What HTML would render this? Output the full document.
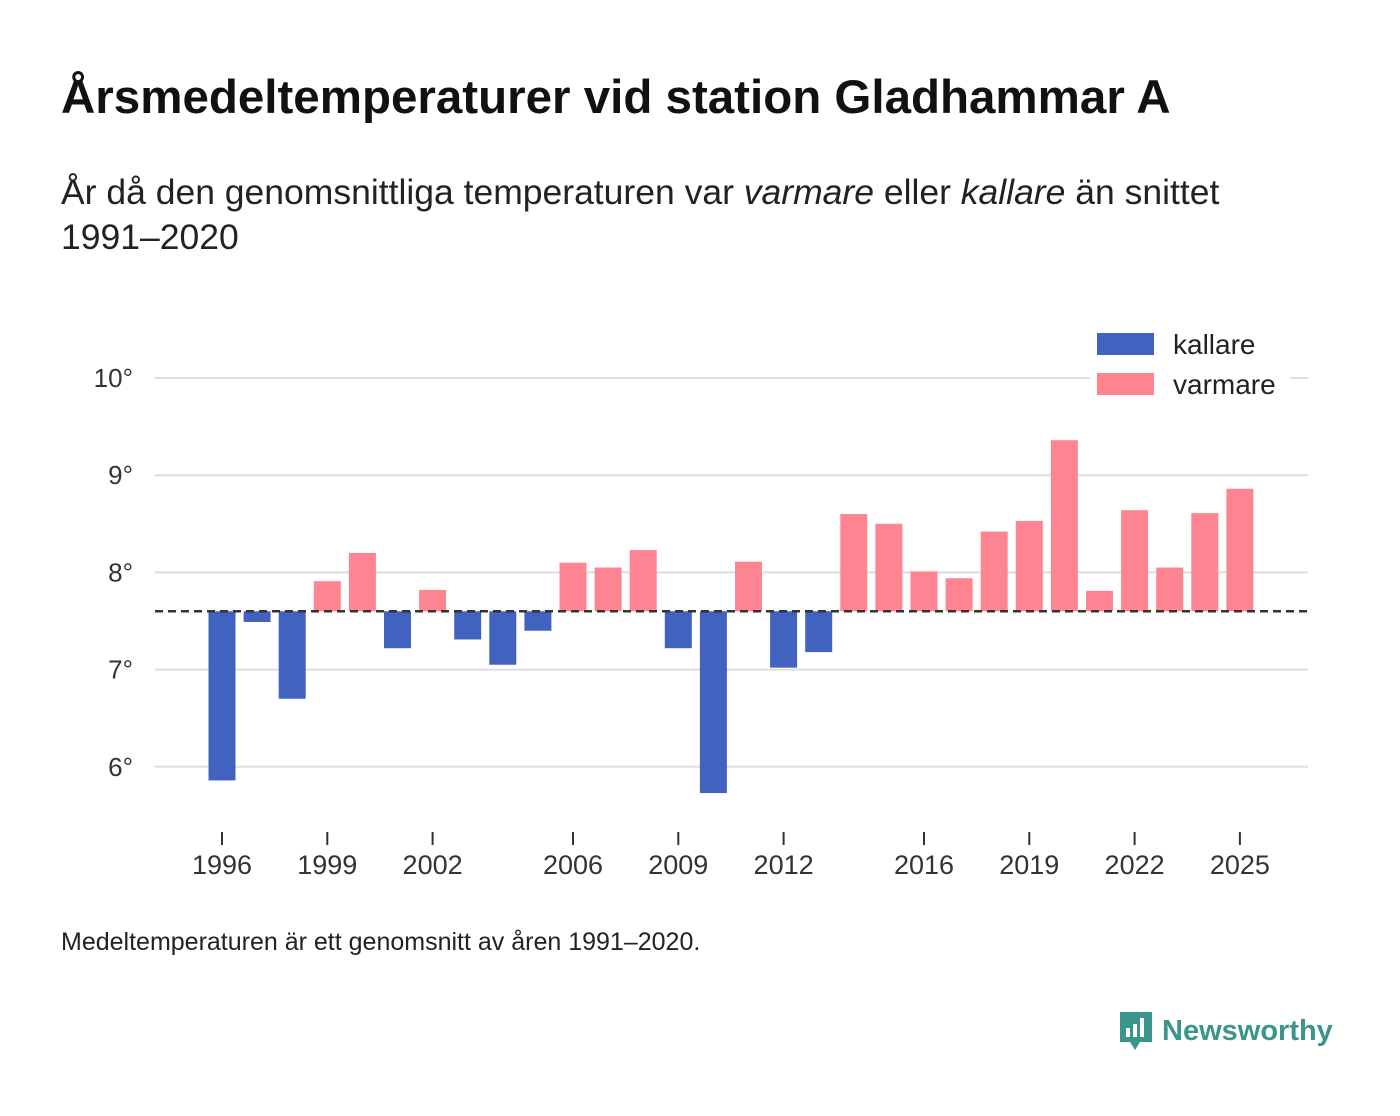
<!DOCTYPE html>
<html><head><meta charset="utf-8">
<style>
body{margin:0;background:#fff;width:1400px;height:1116px;overflow:hidden;font-family:"Liberation Sans","DejaVu Sans",sans-serif;color:#111}
h1{position:absolute;left:61px;top:70px;margin:0;font-size:47.5px;font-weight:bold;letter-spacing:0px;white-space:nowrap}
.sub{position:absolute;left:61px;top:170px;margin:0;font-size:35.5px;line-height:45px;color:#222;width:1250px}
.foot{position:absolute;left:61px;top:928px;font-size:25px;color:#222;white-space:nowrap}
.brand{position:absolute;left:1118px;top:1010px;font-size:29px;font-weight:bold;color:#3b958c;display:flex;align-items:center;gap:8px}
</style></head><body>
<h1>Årsmedeltemperaturer vid station Gladhammar A</h1>
<p class="sub">År då den genomsnittliga temperaturen var <i>varmare</i> eller <i>kallare</i> än snittet<br>1991–2020</p>
<svg id="chart" width="1400" height="1116" style="position:absolute;left:0;top:0"></svg>
<div class="foot">Medeltemperaturen är ett genomsnitt av åren 1991–2020.</div>
<div class="brand"><svg width="36" height="42" viewBox="0 0 36 42"><path d="M2 2h32v30H22l-5 8-5-8H2z" fill="#3b958c"/><rect x="8" y="18" width="4" height="9" fill="#fff"/><rect x="15" y="14" width="4" height="13" fill="#fff"/><rect x="22" y="8" width="4" height="19" fill="#fff"/></svg>Newsworthy</div>
<script>
const years=[1996,1997,1998,1999,2000,2001,2002,2003,2004,2005,2006,2007,2008,2009,2010,2011,2012,2013,2014,2015,2016,2017,2018,2019,2020,2021,2022,2023,2024,2025];
const temps=[5.86,7.49,6.70,7.91,8.20,7.22,7.82,7.31,7.05,7.40,8.10,8.05,8.23,7.22,5.73,8.11,7.02,7.18,8.60,8.50,8.01,7.94,8.42,8.53,9.36,7.81,8.64,8.05,8.61,8.86];
const baseline=7.6;
const yTicks=[6,7,8,9,10];
const yTickLabels=["6°","7°","8°","9°","10°"];
const xTicks=[1996,1999,2002,2006,2009,2012,2016,2019,2022,2025];
const NS="http://www.w3.org/2000/svg";
const svg=document.getElementById('chart');
const y=v=>378+(10-v)*97.2;
const x=yr=>222+(yr-1996)*35.1;
function mk(t,a){const e=document.createElementNS(NS,t);for(const k in a)e.setAttribute(k,a[k]);svg.appendChild(e);return e;}
yTicks.forEach((v,i)=>{
 const g=mk('line',{x1:155,x2:1308,y1:y(v),y2:y(v),stroke:'#ddd','stroke-width':2});
 
 
 const t=mk('text',{x:133,y:y(v)+9,'text-anchor':'end','font-size':26,fill:'#333'});
 t.textContent=yTickLabels[i];
 
 
});
years.forEach((yr,i)=>{
 const v=temps[i];const top=Math.min(y(v),y(baseline)),h=Math.abs(y(v)-y(baseline));
 const r=mk('rect',{x:x(yr)-13.5,y:top,width:27,height:h,fill:v<baseline?'#4163bf':'#ff8491'});
 
 
});
const bl=mk('line',{x1:155,x2:1308,y1:y(baseline),y2:y(baseline),stroke:'#333','stroke-width':2.5,'stroke-dasharray':'8,5'});


xTicks.forEach(yr=>{
 const l=mk('line',{x1:x(yr),x2:x(yr),y1:832,y2:845,stroke:'#333','stroke-width':2});
 
 
 const t=mk('text',{x:x(yr),y:874,'text-anchor':'middle','font-size':27,fill:'#333'});
 t.textContent=yr;
 
 
});
const lg=mk('rect',{x:1090,y:325,width:200,height:80,fill:'#fff'});


[['kallare','#4163bf',333],['varmare','#ff8491',373]].forEach(([n,c,yy])=>{
 const r=mk('rect',{x:1097,y:yy,width:57,height:22,fill:c});
 
 
 const t=mk('text',{x:1173,y:yy+21,'font-size':28,fill:'#222'});
 t.textContent=n;
 
 
});
</script>
</body></html>
